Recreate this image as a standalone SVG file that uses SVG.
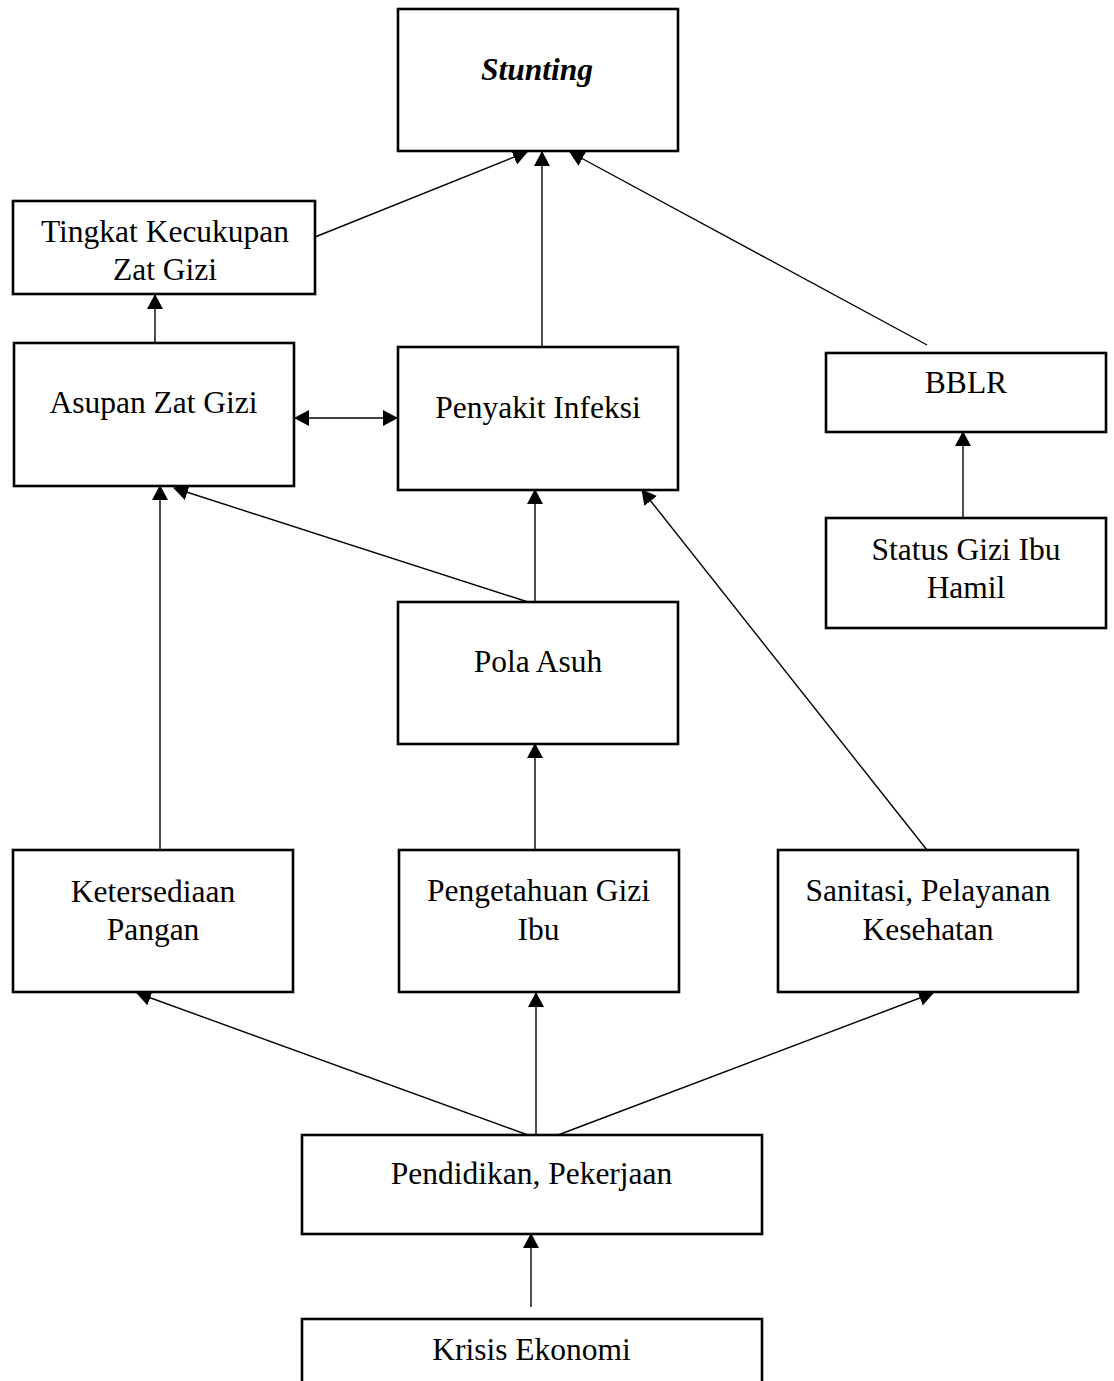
<svg xmlns="http://www.w3.org/2000/svg" width="1114" height="1381" viewBox="0 0 1114 1381">
<style>
.box{fill:#fff;stroke:#000;stroke-width:2.6}
.t{font-family:"Liberation Serif","Times New Roman",serif;font-size:31.5px;fill:#000;text-anchor:middle}
.bi{font-weight:bold;font-style:italic}
.c{stroke:#000;stroke-width:1.4;fill:none;marker-end:url(#ah)}
</style>
<defs>
<marker id="ah" markerUnits="userSpaceOnUse" markerWidth="15" markerHeight="16" refX="14" refY="8" orient="auto-start-reverse" viewBox="0 0 15 16">
<path d="M0,0 L15,8 L0,16 z" fill="#000"/>
</marker>
</defs>
<rect width="1114" height="1381" fill="#fff"/>
<g id="connectors">
<line class="c" x1="315" y1="237" x2="527" y2="152"/>
<line class="c" x1="542" y1="347" x2="542" y2="152"/>
<line class="c" x1="927" y1="345" x2="570" y2="152"/>
<line class="c" x1="155" y1="343" x2="155" y2="295"/>
<line class="c" x1="295" y1="418" x2="397" y2="418" style="marker-start:url(#ah)"/>
<line class="c" x1="160" y1="850" x2="160" y2="486"/>
<line class="c" x1="528" y1="602" x2="174" y2="488"/>
<line class="c" x1="535" y1="602" x2="535" y2="490"/>
<line class="c" x1="927" y1="850" x2="642" y2="490"/>
<line class="c" x1="963" y1="518" x2="963" y2="432"/>
<line class="c" x1="535" y1="850" x2="535" y2="744"/>
<line class="c" x1="528" y1="1135" x2="137" y2="993"/>
<line class="c" x1="536" y1="1135" x2="536" y2="993"/>
<line class="c" x1="558" y1="1135" x2="933" y2="993"/>
<line class="c" x1="531" y1="1307" x2="531" y2="1234"/>
</g>
<g id="stunting"><rect class="box" x="398" y="9" width="280" height="142"/><text class="t bi" x="537" y="80">Stunting</text></g>
<g id="tingkat"><rect class="box" x="13" y="201" width="302" height="93"/><text class="t" x="165" y="242">Tingkat Kecukupan</text><text class="t" x="165" y="280">Zat Gizi</text></g>
<g id="asupan"><rect class="box" x="14" y="343" width="280" height="143"/><text class="t" x="153.5" y="413">Asupan Zat Gizi</text></g>
<g id="penyakit"><rect class="box" x="398" y="347" width="280" height="143"/><text class="t" x="538" y="418">Penyakit Infeksi</text></g>
<g id="bblr"><rect class="box" x="826" y="353" width="280" height="79"/><text class="t" x="966" y="393">BBLR</text></g>
<g id="status"><rect class="box" x="826" y="518" width="280" height="110"/><text class="t" x="966" y="560">Status Gizi Ibu</text><text class="t" x="966" y="598">Hamil</text></g>
<g id="pola"><rect class="box" x="398" y="602" width="280" height="142"/><text class="t" x="538" y="672">Pola Asuh</text></g>
<g id="ketersediaan"><rect class="box" x="13" y="850" width="280" height="142"/><text class="t" x="153" y="902">Ketersediaan</text><text class="t" x="153" y="940">Pangan</text></g>
<g id="pengetahuan"><rect class="box" x="399" y="850" width="280" height="142"/><text class="t" x="538.5" y="901">Pengetahuan Gizi</text><text class="t" x="538.5" y="940">Ibu</text></g>
<g id="sanitasi"><rect class="box" x="778" y="850" width="300" height="142"/><text class="t" x="928" y="901">Sanitasi, Pelayanan</text><text class="t" x="928" y="940">Kesehatan</text></g>
<g id="pendidikan"><rect class="box" x="302" y="1135" width="460" height="99"/><text class="t" x="531.5" y="1184">Pendidikan, Pekerjaan</text></g>
<g id="krisis"><rect class="box" x="302" y="1319" width="460" height="100"/><text class="t" x="531.5" y="1360">Krisis Ekonomi</text></g>
</svg>
